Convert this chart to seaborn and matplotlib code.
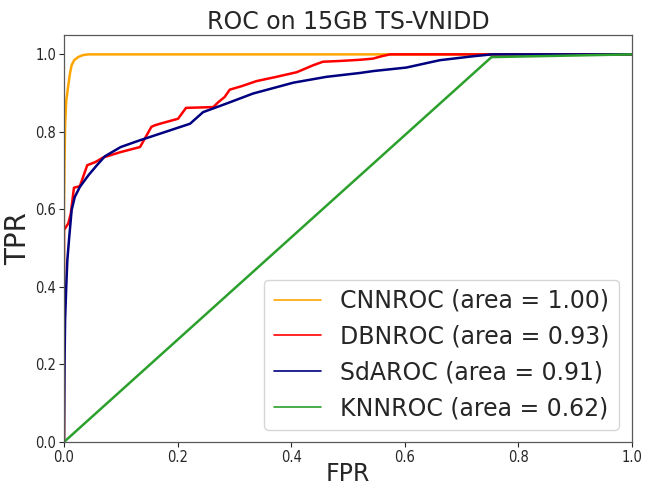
import numpy as np
import pandas as pd
import seaborn as sns
import matplotlib
matplotlib.use("Agg")
import matplotlib.pyplot as plt

#   curve points
cnn_fpr = [0.0, 0.0, 0.001, 0.002, 0.004, 0.0076, 0.0105, 0.0135, 0.018, 0.025, 0.033, 0.043, 0.1, 1.0]
cnn_tpr = [0.0, 0.6, 0.72, 0.817, 0.88, 0.92, 0.95, 0.972, 0.985, 0.993, 0.998, 1.0, 1.0, 1.0]

dbn_fpr = [0.0, 0.0, 0.002, 0.0076, 0.012, 0.0176, 0.028, 0.041, 0.055, 0.069, 0.10, 0.134,
           0.154, 0.16, 0.169, 0.201, 0.215, 0.263, 0.272, 0.283, 0.292, 0.313, 0.339, 0.374,
           0.41, 0.439, 0.456, 0.486, 0.521, 0.544, 0.559, 0.574, 1.0]
dbn_tpr = [0.0, 0.55, 0.551, 0.564, 0.589, 0.656, 0.66, 0.714, 0.722, 0.734, 0.748, 0.761,
           0.813, 0.817, 0.821, 0.834, 0.862, 0.864, 0.877, 0.89, 0.909, 0.918, 0.931, 0.942,
           0.954, 0.972, 0.981, 0.983, 0.986, 0.989, 0.995, 1.0, 1.0]

sda_fpr = [0.0, 0.001, 0.002, 0.004, 0.006, 0.0088, 0.0135, 0.019, 0.028, 0.043, 0.058, 0.072,
           0.10, 0.131, 0.16, 0.195, 0.222, 0.245, 0.286, 0.333, 0.404, 0.462, 0.521, 0.545,
           0.603, 0.662, 0.72, 0.753, 1.0]
sda_tpr = [0.0, 0.2, 0.314, 0.40, 0.47, 0.52, 0.598, 0.632, 0.658, 0.688, 0.714, 0.737,
           0.761, 0.777, 0.791, 0.808, 0.821, 0.851, 0.873, 0.899, 0.927, 0.942, 0.952, 0.957,
           0.966, 0.985, 0.995, 1.0, 1.0]

knn_fpr = [0.0, 0.753, 1.0]
knn_tpr = [0.0, 0.993, 1.0]

labels = ['CNNROC (area = 1.00)', 'DBNROC (area = 0.93)',
          'SdAROC (area = 0.91)', 'KNNROC (area = 0.62)']
colors = ['orange', 'red', 'navy', 'tab:green']

sns.set_style("white")
plt.rcParams['font.family'] = ['DejaVu Sans']

fig, ax = plt.subplots(figsize=(6.46, 4.86), dpi=100)
fig.subplots_adjust(left=0.099, right=0.978, top=0.928, bottom=0.0905)

curves = [(cnn_fpr, cnn_tpr), (dbn_fpr, dbn_tpr), (sda_fpr, sda_tpr), (knn_fpr, knn_tpr)]
for (fx, ty), lab, c in zip(curves, labels, colors):
    df = pd.DataFrame({'FPR': fx, 'TPR': ty})
    sns.lineplot(data=df, x='FPR', y='TPR', sort=False, estimator=None,
                 color=c, lw=1.8, label=lab, ax=ax)

ax.set_xlim(0.0, 1.0)
ax.set_ylim(0.0, 1.05)
ax.set_xticks(np.arange(0, 1.01, 0.2))
ax.set_yticks(np.arange(0, 1.01, 0.2))
ax.tick_params(axis='both', labelsize=10.5, length=3.5, width=0.8, direction='out',
               bottom=True, left=True, colors='0.15', pad=2)
#   reference tick text is narrow
for t in ax.get_xticklabels() + ax.get_yticklabels():
    t.set_fontstretch('condensed')
for s in ax.spines.values():
    s.set_color('0.35')
    s.set_linewidth(0.9)

ax.set_title('ROC on 15GB TS-VNIDD', fontsize=17, pad=4)
ax.set_xlabel('FPR', fontsize=17, labelpad=-2)
ax.set_ylabel('TPR', fontsize=20, labelpad=2)

leg = ax.legend(loc='lower right', bbox_to_anchor=(0.977, 0.03), borderaxespad=0,
                fontsize=17, frameon=True, handlelength=2.0)
for h in leg.get_lines():
    h.set_linewidth(1.2)

fig.savefig('out.png', dpi=100)
